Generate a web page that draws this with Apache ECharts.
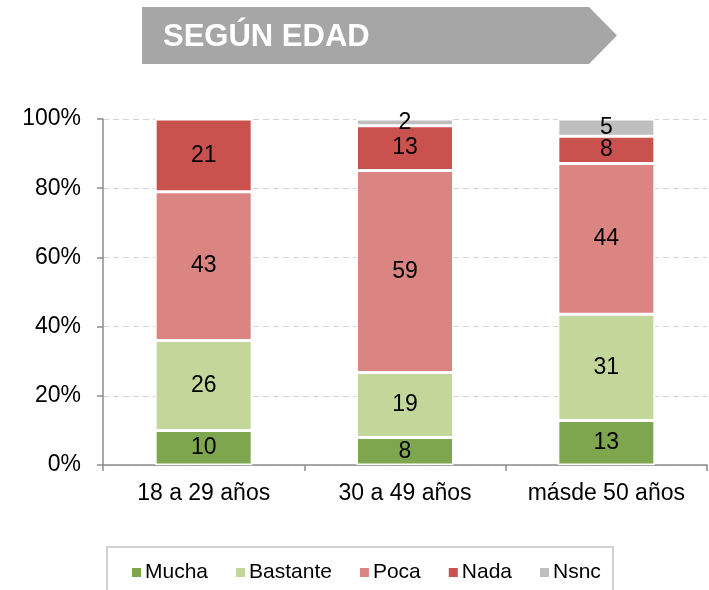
<!DOCTYPE html>
<html>
<head>
<meta charset="utf-8">
<script src="https://cdn.jsdelivr.net/npm/echarts@6/dist/echarts.min.js"></script>
<style>
html,body{margin:0;padding:0;background:#fff;}
#c{width:709px;height:590px;}
</style>
</head>
<body>
<div id="c"></div>
<script>
const categories = ['18 a 29 años', '30 a 49 años', 'másde 50 años'];
const seriesNames = ['Mucha', 'Bastante', 'Poca', 'Nada', 'Nsnc'];
const mucha    = [10, 8, 13];
const bastante = [26, 19, 31];
const poca     = [43, 59, 44];
const nada     = [21, 13, 8];
const nsnc     = [0, 2, 5];
const yTicks = [0, 20, 40, 60, 80, 100];
const colors = ['#7EA64F', '#C4D79B', '#DA8581', '#C9524E', '#BFBFBF'];

const raw = [mucha, bastante, poca, nada, nsnc];
const totals = categories.map((_, i) => raw.reduce((s, arr) => s + arr[i], 0));
const FONT = "'Liberation Sans', Arial, sans-serif";

const series = raw.map((arr, k) => ({
  name: seriesNames[k],
  type: 'bar',
  stack: 'total',
  barWidth: 97,
  itemStyle: { color: colors[k], borderColor: '#ffffff', borderWidth: 1.5 },
  label: {
    show: true,
    position: 'inside',
    color: '#000',
    fontSize: 23,
    fontFamily: FONT,
    formatter: p => (p.data && p.data.raw ? String(p.data.raw) : '')
  },
  data: arr.map((v, i) => v ? { value: v / totals[i] * 100, raw: v } : { value: null, raw: 0 })
}));

const chart = echarts.init(document.getElementById('c'), null, { renderer: 'canvas' });
chart.setOption({
  animation: false,
  color: colors,
  textStyle: { fontFamily: FONT },
  grid: { left: 103, right: 2, top: 119, bottom: 125, containLabel: false },
  xAxis: {
    type: 'category',
    data: categories,
    axisLine: { show: true, lineStyle: { color: '#8c8c8c', width: 1.5 } },
    axisTick: { show: true, interval: 0, alignWithLabel: false, length: 6, lineStyle: { color: '#8c8c8c', width: 1.5 } },
    axisLabel: { interval: 0, hideOverlap: false, margin: 17, color: '#000', fontSize: 23, fontFamily: FONT }
  },
  yAxis: {
    type: 'value',
    min: 0, max: 100, interval: 20,
    axisLine: { show: true, lineStyle: { color: '#8c8c8c', width: 1.5 } },
    axisTick: { show: true, length: 6, lineStyle: { color: '#8c8c8c', width: 1.5 } },
    axisLabel: { margin: 22, color: '#000', fontSize: 23, fontFamily: FONT, formatter: v => yTicks.includes(v) ? v + '%' : '' },
    splitLine: { show: true, lineStyle: { color: '#d4d4d4', type: [6, 4], width: 1.2 } }
  },
  legend: {
    data: seriesNames,
    left: 130, top: 562,
    padding: 0,
    itemWidth: 11, itemHeight: 11, itemGap: 26,
    icon: 'rect',
    textStyle: { color: '#000', fontSize: 21, fontFamily: FONT, padding: [0, 0, 0, -2] }
  },
  graphic: [
    {
      type: 'polygon',
      shape: { points: [[142, 7], [589, 7], [617, 35.5], [589, 64], [142, 64]] },
      style: { fill: '#A6A6A6' },
      z: 1
    },
    {
      type: 'text',
      x: 163, y: 37,
      style: { text: 'SEGÚN EDAD', fill: '#ffffff', font: "bold 31px 'Liberation Sans', Arial, sans-serif", textVerticalAlign: 'middle', verticalAlign: 'middle' },
      z: 2
    },
    {
      type: 'rect',
      shape: { x: 107, y: 547, width: 506, height: 60 },
      style: { fill: 'none', stroke: '#c4c4c4', lineWidth: 1.5 },
      z: 0
    }
  ],
  series: series
});
</script>
</body>
</html>
